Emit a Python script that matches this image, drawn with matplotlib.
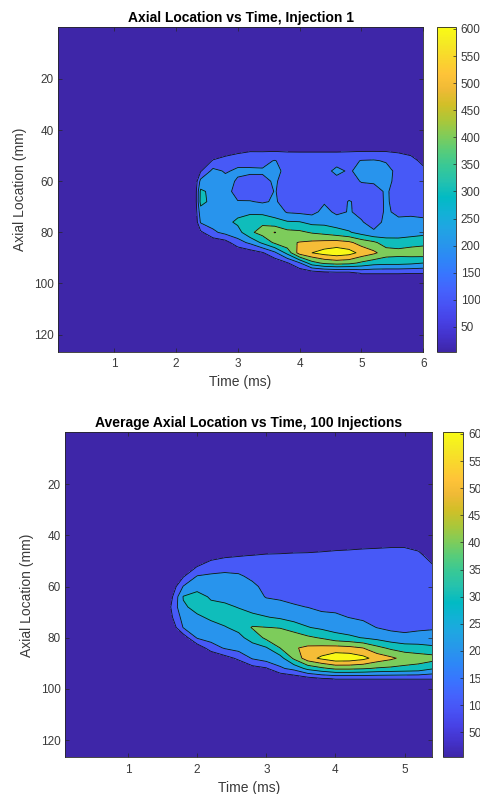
import numpy as np
import matplotlib.pyplot as plt
from matplotlib.colors import LinearSegmentedColormap, Normalize
import matplotlib.cm as cm

plt.rcParams['font.family'] = ['Liberation Sans', 'DejaVu Sans']

# parula (MATLAB default colormap), every 3rd entry of the 64 colour table
parula_rgb = [
    (0.2422, 0.1504, 0.6603), (0.2647, 0.1978, 0.7952), (0.2783, 0.2559, 0.8991),
    (0.2810, 0.3228, 0.9579), (0.2699, 0.3892, 0.9906), (0.2206, 0.4603, 0.9973),
    (0.1786, 0.5289, 0.9682), (0.1540, 0.5902, 0.9218), (0.1248, 0.6459, 0.8883),
    (0.0689, 0.6948, 0.8394), (0.0067, 0.7312, 0.7660), (0.1408, 0.7584, 0.6842),
    (0.2161, 0.7843, 0.5923), (0.3406, 0.8008, 0.4789), (0.5044, 0.7993, 0.3480),
    (0.6720, 0.7793, 0.2227), (0.8203, 0.7498, 0.1535), (0.9393, 0.7288, 0.2100),
    (0.9970, 0.7659, 0.2199), (0.9786, 0.8386, 0.1766), (0.9597, 0.9135, 0.1423),
    (0.9769, 0.9839, 0.0805),
]
parula = LinearSegmentedColormap.from_list('parula', parula_rgb)

# ---- data ----
axial_mm = [44, 48, 52, 56, 60, 64, 68, 72, 76, 80, 84, 88, 92, 96, 100]

# injection 1: one axial profile per time sample
time_inj1 = [0.0, 2.3, 2.4, 2.6, 2.8, 3.0, 3.2, 3.4, 3.6, 3.8, 4.0,
             4.2, 4.4, 4.6, 4.8, 5.0, 5.2, 5.4, 5.6, 5.8, 6.0]
profiles_inj1 = [
    [0, 0, 0, 0, 0, 0, 0, 0, 0, 0, 0, 0, 0, 0, 0],
    [0, 0, 0, 0, 0, 0, 0, 0, 0, 0, 0, 0, 0, 0, 0],
    [0, 0, 0, 90, 230, 320, 330, 260, 210, 80, 0, 0, 0, 0, 0],
    [0, 0, 110, 230, 250, 270, 270, 260, 240, 180, 30, 0, 0, 0, 0],
    [0, 50, 140, 190, 230, 240, 250, 260, 270, 230, 60, 0, 0, 0, 0],
    [0, 70, 170, 215, 190, 160, 205, 270, 320, 260, 160, 20, 0, 0, 0],
    [0, 90, 180, 210, 180, 150, 205, 280, 360, 380, 220, 50, 0, 0, 0],
    [0, 90, 175, 210, 180, 150, 190, 270, 380, 440, 320, 90, 0, 0, 0],
    [0, 90, 205, 230, 210, 205, 210, 260, 330, 505, 420, 180, 30, 0, 0],
    [0, 90, 160, 170, 165, 160, 165, 190, 310, 430, 480, 330, 90, 0, 0],
    [0, 90, 155, 165, 165, 160, 160, 180, 305, 420, 505, 550, 190, 20, 0],
    [0, 90, 155, 165, 165, 160, 165, 170, 270, 390, 520, 600, 360, 30, 0],
    [0, 90, 155, 160, 160, 160, 190, 230, 270, 370, 530, 640, 420, 50, 0],
    [0, 90, 155, 230, 160, 160, 165, 180, 250, 340, 540, 665, 440, 60, 0],
    [0, 90, 170, 185, 170, 165, 205, 205, 240, 310, 520, 640, 430, 60, 0],
    [0, 90, 205, 240, 205, 165, 180, 185, 205, 260, 460, 570, 380, 105, 0],
    [0, 90, 210, 250, 210, 170, 165, 165, 175, 210, 420, 520, 340, 105, 0],
    [0, 90, 190, 240, 230, 210, 210, 210, 215, 240, 350, 450, 330, 105, 0],
    [0, 85, 150, 165, 165, 165, 170, 185, 215, 250, 340, 440, 330, 105, 0],
    [0, 60, 140, 160, 160, 165, 170, 185, 220, 255, 360, 450, 320, 102, 0],
    [0, 0, 70, 130, 150, 160, 170, 180, 215, 270, 370, 460, 300, 102, 0],
]

# average of 100 injections
time_avg = [0.0, 1.6, 1.8, 2.0, 2.2, 2.4, 2.6, 2.8, 3.0, 3.2, 3.4,
            3.6, 3.8, 4.0, 4.2, 4.4, 4.6, 4.8, 5.0, 5.2, 5.4]
profiles_avg = [
    [0, 0, 0, 0, 0, 0, 0, 0, 0, 0, 0, 0, 0, 0, 0],
    [0, 0, 0, 0, 0, 40, 80, 60, 0, 0, 0, 0, 0, 0, 0],
    [0, 0, 0, 90, 205, 305, 290, 240, 205, 40, 0, 0, 0, 0, 0],
    [0, 0, 95, 205, 270, 330, 320, 290, 260, 210, 30, 0, 0, 0, 0],
    [0, 60, 150, 215, 250, 290, 320, 310, 280, 240, 150, 0, 0, 0, 0],
    [0, 85, 165, 220, 240, 270, 320, 330, 295, 260, 210, 60, 0, 0, 0],
    [0, 95, 170, 210, 230, 250, 295, 340, 320, 280, 240, 120, 10, 0, 0],
    [0, 105, 160, 185, 215, 235, 270, 320, 410, 330, 270, 210, 60, 0, 0],
    [0, 120, 150, 165, 180, 195, 240, 305, 402, 425, 290, 250, 90, 0, 0],
    [0, 125, 150, 160, 170, 185, 230, 285, 395, 460, 400, 260, 185, 0, 0],
    [20, 130, 150, 160, 165, 175, 210, 260, 350, 460, 490, 420, 230, 30, 0],
    [30, 130, 150, 160, 165, 170, 198, 250, 305, 420, 520, 560, 330, 60, 0],
    [45, 135, 150, 155, 160, 165, 180, 225, 280, 390, 530, 620, 380, 90, 0],
    [60, 140, 150, 155, 160, 165, 180, 215, 260, 340, 540, 670, 420, 105, 0],
    [70, 140, 150, 155, 160, 160, 170, 198, 245, 320, 530, 665, 420, 105, 0],
    [80, 140, 150, 155, 160, 160, 165, 185, 230, 295, 500, 630, 410, 105, 0],
    [85, 140, 150, 150, 155, 160, 160, 170, 198, 270, 430, 560, 390, 105, 0],
    [90, 140, 150, 150, 150, 155, 160, 165, 180, 240, 380, 520, 380, 105, 0],
    [90, 140, 150, 150, 150, 150, 155, 160, 175, 225, 350, 470, 370, 105, 0],
    [70, 125, 145, 150, 150, 150, 155, 160, 185, 230, 340, 450, 360, 105, 0],
    [0, 60, 110, 140, 150, 150, 155, 165, 190, 235, 320, 440, 310, 105, 0],
]

contour_levels = [100, 200, 300, 400, 500, 600]
cbar_ticks = [50, 100, 150, 200, 250, 300, 350, 400, 450, 500, 550, 600]
x_ticks_inj1 = [1, 2, 3, 4, 5, 6]
x_ticks_avg = [1, 2, 3, 4, 5]
y_ticks = [20, 40, 60, 80, 100, 120]

cmin, cmax = 4, 603
norm = Normalize(cmin, cmax)
txt_col = '#3a3a3a'


def panel(fig, rect, cbar_rect, t, profiles, xmax, xticks, title):
    ax = fig.add_axes(rect)
    # zero rows above / below the measured window
    y = np.concatenate([[-1], axial_mm, [128]])
    z = np.array(profiles, dtype=float).T
    zero = np.zeros((1, z.shape[1]))
    z = np.vstack([zero, z, zero])

    fill_levels = [-1] + contour_levels + [10000]
    # MATLAB-style: each band takes the colour of its lower level
    band_cols = [parula(norm(v)) for v in [cmin] + contour_levels]
    ax.contourf(t, y, z, levels=fill_levels, colors=band_cols)
    ax.contour(t, y, z, levels=contour_levels, colors='#111111', linewidths=0.6)

    ax.set_xlim(0.09, xmax)
    ax.set_ylim(126.7, -0.2)
    ax.set_xticks(xticks)
    ax.set_yticks(y_ticks)
    ax.tick_params(direction='in', top=True, right=True, length=3, width=0.5,
                   color='#262626', labelcolor=txt_col, labelsize=8.5)
    ax.tick_params(axis='x', pad=4.5)
    ax.tick_params(axis='y', pad=3)
    for sp in ax.spines.values():
        sp.set_linewidth(0.6)
        sp.set_color('#262626')
    ax.set_title(title, fontsize=10, fontweight='bold', pad=4)
    ax.set_xlabel('Time (ms)', fontsize=10, color=txt_col)
    ax.set_ylabel('Axial Location (mm)', fontsize=10, color=txt_col)
    ax.xaxis.set_label_coords(0.5, -0.072)
    ax.yaxis.set_label_coords(-0.085, 0.5)

    cax = fig.add_axes(cbar_rect)
    sm = cm.ScalarMappable(norm=norm, cmap=parula)
    cb = fig.colorbar(sm, cax=cax, ticks=cbar_ticks)
    cb.ax.tick_params(direction='in', length=2.5, width=0.5, color='#262626',
                      labelcolor=txt_col, labelsize=8.5, pad=3.5)
    cb.outline.set_linewidth(0.6)
    cb.outline.set_edgecolor('#262626')
    return ax


fig = plt.figure(figsize=(4.81, 7.94), dpi=100)

panel(fig, [0.120, 0.557, 0.760, 0.4086], [0.9085, 0.557, 0.0389, 0.4086],
      time_inj1, profiles_inj1, 6.0, x_ticks_inj1,
      'Axial Location vs Time, Injection 1')

# lower panel's colourbar labels run past the right edge, as in the source image
panel(fig, [0.1351, 0.0462, 0.7637, 0.4093], [0.9203, 0.0462, 0.0429, 0.4093],
      time_avg, profiles_avg, 5.4, x_ticks_avg,
      'Average Axial Location vs Time, 100 Injections')

fig.savefig('out.png', dpi=100)
